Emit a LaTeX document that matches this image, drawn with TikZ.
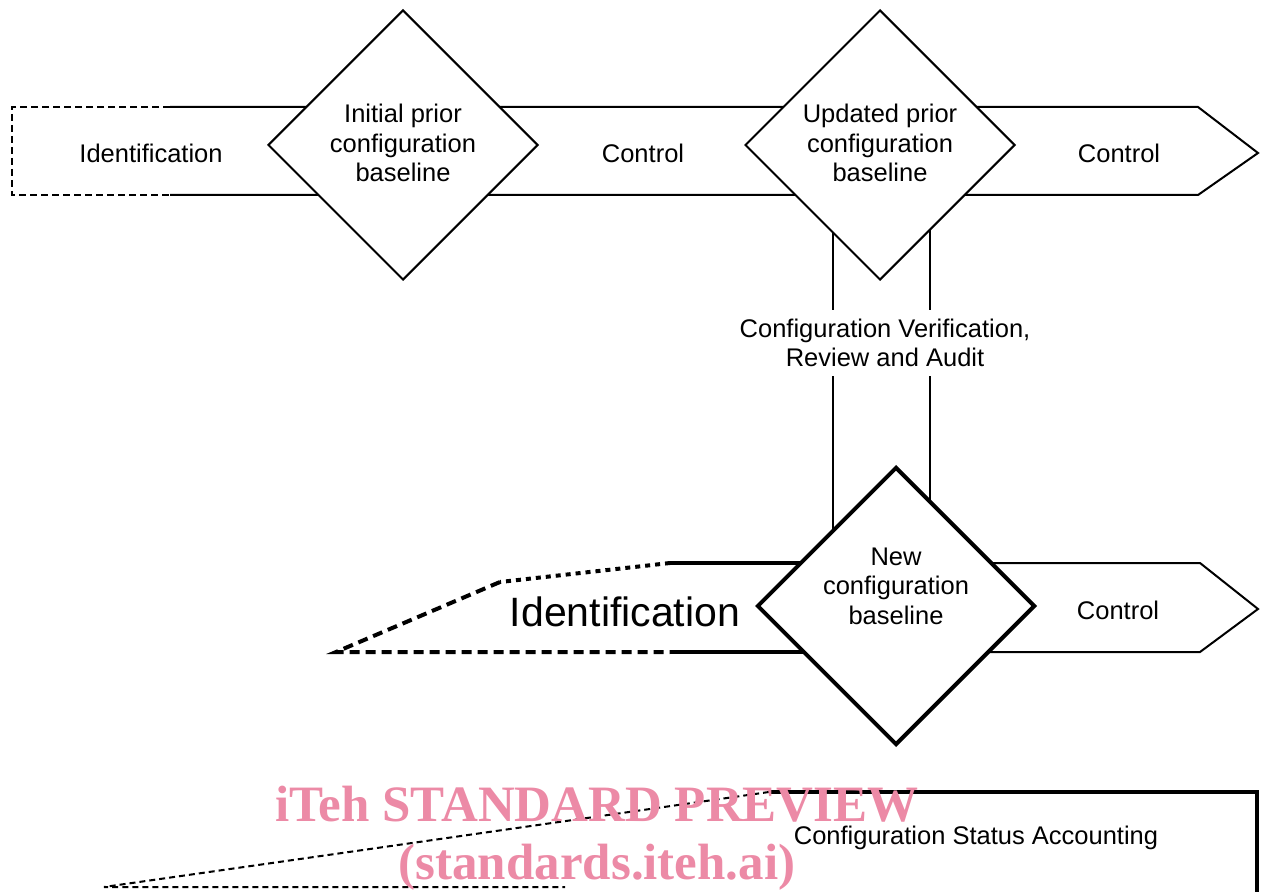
\documentclass[tikz,border=0pt]{standalone}
\usepackage{fontspec}
\setmainfont{Liberation Sans}
\newfontfamily\markfont{Liberation Serif}
\usetikzlibrary{shapes.geometric}
\definecolor{markpink}{RGB}{236,138,166}
\tikzstyle{milestone}=[diamond,draw=black,fill=white,aspect=1,inner sep=0pt,minimum width=135pt,minimum height=135pt,align=center,font=\fontsize{12.75}{14.75}\selectfont]
\tikzstyle{phase}=[align=center,font=\fontsize{12.75}{14.75}\selectfont]
\tikzstyle{heavy}=[line width=2pt]
\tikzstyle{open}=[dash pattern=on 3.5pt off 2pt]
\tikzstyle{wmark}=[anchor=base,inner sep=0pt,text=markpink,font=\markfont\bfseries\fontsize{25.5}{30}\selectfont]

\begin{document}
\begin{tikzpicture}[x=0.5pt,y=-0.5pt,line width=1pt]
                  \useasboundingbox (0,0) rectangle (1262,892);

                  % upper band
                  \draw [open] (170,107) -- (12,107) -- (12,195) -- (170,195);
                  \draw (170,107) -- (1198,107) -- (1258,153) -- (1198,195) -- (170,195);

                  % review band
                  \draw (833,145) -- (833,606);
                  \draw (930,145) -- (930,606);

                  % lower band
                  \draw [heavy,dash pattern=on 2.5pt off 2.5pt] (670,563) -- (500,582);
                  \draw [heavy,dash pattern=on 5pt off 3pt] (500,582) -- (336,652) -- (670,652);
                  \draw [heavy] (670,563) -- (896,563);
                  \draw [heavy] (670,652) -- (896,652);
                  \draw (896,563) -- (1200,563) -- (1258,609) -- (1200,652) -- (896,652);

                  % status accounting
                  \draw [heavy] (769,792) -- (1257,792) -- (1257,892);
                  \draw [dash pattern=on 3pt off 2pt] (769,792) -- (104,887) -- (565,887);

                  \node (ipb) at (403,145) [milestone] {};
                  \node (ipbtext) at (403,143) [phase] {Initial prior\\configuration\\baseline};
                  \node (upb) at (880,145) [milestone] {};
                  \node (upbtext) at (880,143) [phase] {Updated prior\\configuration\\baseline};
                  \node (ncb) at (896,606) [milestone,heavy,minimum width=139pt,minimum height=139pt] {};
                  \node (ncbtext) at (896,586) [phase] {New\\configuration\\baseline};

                  \node (idtop) at (151,153) [phase] {Identification};
                  \node (ctl1) at (643,153) [phase] {Control};
                  \node (ctl2) at (1119,153) [phase] {Control};
                  \node (cvra) at (885,343) [phase,fill=white,inner sep=4.5pt] {Configuration Verification,\\Review and Audit};
                  \node (idnew) at (625,612) [phase,font=\fontsize{20.5}{24}\selectfont] {Identification};
                  \node (ctl3) at (1118,610) [phase] {Control};
                  \node (csa) at (976,838) [phase,inner sep=1pt] {Configuration Status Accounting};

                  \node (mark1) at (597,821) [wmark] {iTeh STANDARD PREVIEW};
                  \node (mark2) at (597,879) [wmark] {(standards.iteh.ai)};
              \end{tikzpicture}
\end{document}
